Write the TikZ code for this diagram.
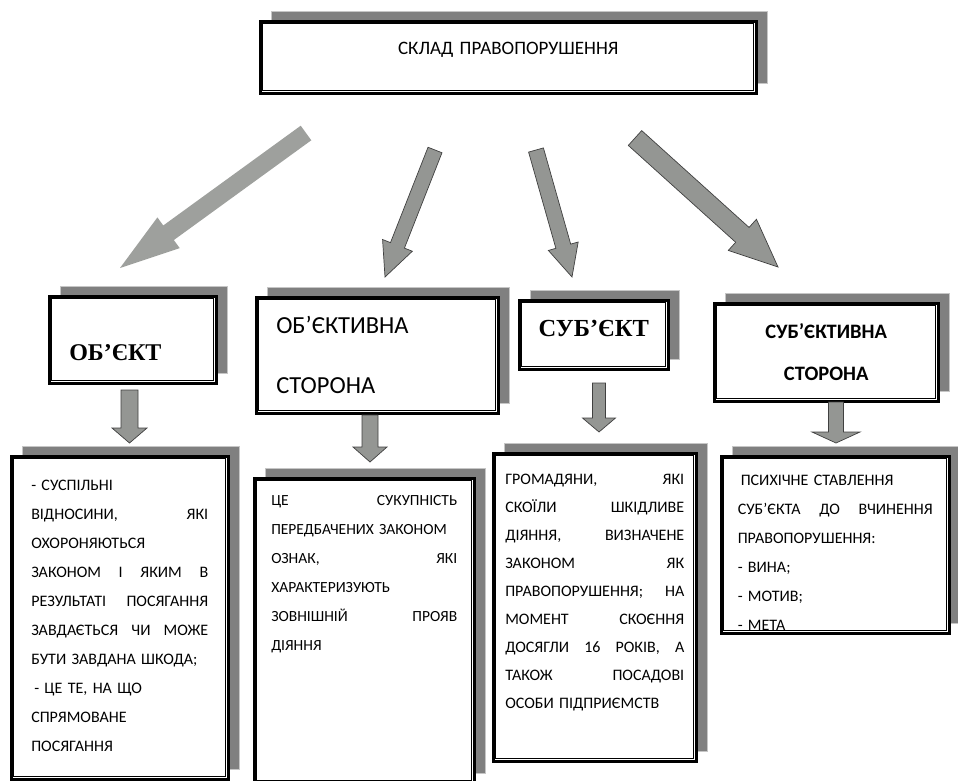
\documentclass[tikz,border=0pt]{standalone}
\usepackage{fontspec}
\setmainfont{Carlito}
\newfontfamily\tnr{Liberation Serif}
\usetikzlibrary{calc, shadows}
\definecolor{shadowgray}{RGB}{128, 128, 128}
\definecolor{arrowgray}{RGB}{148, 150, 147}
\definecolor{arrowlight}{RGB}{158, 160, 157}

% block arrow: [style]{tail}{tip}{half shaft}{half head}{head length}
\newcommand{\blockarrow}[6][]{%
  \coordinate (hb) at ($(#3)!#6!(#2)$);
  \draw[#1] ($(#2)!#4!90:(#3)$) -- ($(hb)!#4!90:(#3)$) -- ($(hb)!#5!90:(#3)$) -- (#3)
    -- ($(hb)!#5!-90:(#3)$) -- ($(hb)!#4!-90:(#3)$) -- ($(#2)!#4!-90:(#3)$) -- cycle;
}

\begin{document}
\begin{tikzpicture}[x=1pt, y=-1pt, every node/.style={font=\fontsize{16}{29}\selectfont}]
  % Styles
  \tikzstyle{boxed} = [draw, line width=2.5pt, fill=white, anchor=north west, inner ysep=0pt,
    drop shadow={shadow xshift=11pt, shadow yshift=10pt, fill=shadowgray, draw=gray!45, line width=1pt, opacity=1}]
  \tikzstyle{fatarrow} = [fill=arrowgray, draw=black!75, line width=0.7pt, line join=miter]

  \useasboundingbox (0,0) rectangle (958,780);

  % Title
  \node (title) [boxed, text width=496pt, inner xsep=0pt, align=center, text height=33pt, text depth=39pt,
    font=\fontsize{19}{21}\selectfont] at (259,20) {СКЛАД ПРАВОПОРУШЕННЯ};

  % Elements
  \node (object) [boxed, text width=127pt, inner xsep=20pt, align=left, text height=64pt, text depth=23pt,
    font=\tnr\bfseries\fontsize{24}{26}\selectfont] at (48,295) {ОБ’ЄКТ};
  \node (objside) [boxed, text width=202pt, inner xsep=20pt, align=left, text height=36pt, text depth=80pt,
    font=\fontsize{24.5}{60}\selectfont] at (255,296) {ОБ’ЄКТИВНА\\ СТОРОНА};
  \node (subject) [boxed, text width=149pt, inner xsep=0pt, align=center, text height=36pt, text depth=33pt,
    font=\tnr\bfseries\fontsize{24.5}{26}\selectfont] at (518,299) {СУБ’ЄКТ};
  \node (subjside) [boxed, text width=224pt, inner xsep=0pt, align=center, text height=35pt, text depth=63pt,
    font=\bfseries\fontsize{20.5}{42}\selectfont] at (713,302) {СУБ’ЄКТИВНА\\ СТОРОНА};

  % Descriptions
  \node (objtext) [boxed, text width=177pt, inner xsep=20pt, align=left, text height=34pt, text depth=289pt] at (10,455)
    {- СУСПІЛЬНІ\\ ВІДНОСИНИ,\hfill ЯКІ\\ ОХОРОНЯЮТЬСЯ\\ ЗАКОНОМ\hfill І\hfill ЯКИМ\hfill В\\
     РЕЗУЛЬТАТІ\hfill ПОСЯГАННЯ\\ ЗАВДАЄТЬСЯ\hfill ЧИ\hfill МОЖЕ\\ БУТИ ЗАВДАНА ШКОДА;\\
     \hspace*{3pt}- ЦЕ ТЕ, НА ЩО\\ СПРЯМОВАНЕ\\ ПОСЯГАННЯ};
  \node (sidetext) [boxed, text width=186pt, inner xsep=17pt, align=left, text height=27pt, text depth=278pt,
    font=\fontsize{15.5}{29}\selectfont] at (253,477)
    {ЦЕ\hfill СУКУПНІСТЬ\\ ПЕРЕДБАЧЕНИХ ЗАКОНОМ\\ ОЗНАК,\hfill ЯКІ\\ ХАРАКТЕРИЗУЮТЬ\\
     ЗОВНІШНІЙ\hfill ПРОЯВ\\ ДІЯННЯ};
  \node (subjtext) [boxed, text width=179pt, inner xsep=12pt, align=left, text height=31pt, text depth=277pt,
    font=\fontsize{16}{28}\selectfont] at (492,452)
    {ГРОМАДЯНИ,\hfill ЯКІ\\ СКОЇЛИ\hfill ШКІДЛИВЕ\\ ДІЯННЯ,\hfill ВИЗНАЧЕНЕ\\ ЗАКОНОМ\hfill ЯК\\
     ПРАВОПОРУШЕННЯ;\hfill НА\\ МОМЕНТ\hfill СКОЄННЯ\\ ДОСЯГЛИ\hfill 16\hfill РОКІВ,\hfill А\\
     ТАКОЖ\hfill ПОСАДОВІ\\ ОСОБИ ПІДПРИЄМСТВ};
  \node (mindtext) [boxed, text width=195pt, inner xsep=16.5pt, align=left, text height=29pt, text depth=148pt] at (720,455)
    {\hspace*{3pt}ПСИХІЧНЕ СТАВЛЕННЯ\\ СУБ’ЄКТА\hfill ДО\hfill ВЧИНЕННЯ\\ ПРАВОПОРУШЕННЯ:\\
     - ВИНА;\\ - МОТИВ;\\ - МЕТА};

  % thin inner frames
  \foreach \n in {title,object,objside,subject,subjside,objtext,sidetext,subjtext,mindtext}
    \draw[line width=0.8pt] ($(\n.north west)+(3.8,3.8)$) rectangle ($(\n.south east)+(-3.8,-3.8)$);

  % Arrows from the title
  \coordinate (a1s) at (306,133); \coordinate (a1e) at (120,268);
  \coordinate (a2s) at (435,150); \coordinate (a2e) at (385,277);
  \coordinate (a3s) at (536,150); \coordinate (a3e) at (572,277);
  \coordinate (a4s) at (635,138); \coordinate (a4e) at (778,267);
  \blockarrow[fatarrow, draw=none, fill=arrowlight]{a1s}{a1e}{9pt}{19pt}{60pt}
  \blockarrow[fatarrow]{a2s}{a2e}{7.5pt}{16pt}{34pt}
  \blockarrow[fatarrow]{a3s}{a3e}{7.7pt}{15.5pt}{32pt}
  \blockarrow[fatarrow]{a4s}{a4e}{10pt}{21pt}{48pt}

  % Arrows to the descriptions
  \coordinate (d1s) at (129.5,390); \coordinate (d1e) at (129.5,443);
  \coordinate (d2s) at (370,415); \coordinate (d2e) at (370,462);
  \coordinate (d3s) at (599,383); \coordinate (d3e) at (599,432);
  \coordinate (d4s) at (836,402); \coordinate (d4e) at (836,443);
  \blockarrow[fatarrow]{d1s}{d1e}{8.5pt}{17.5pt}{15pt}
  \blockarrow[fatarrow]{d2s}{d2e}{8pt}{17pt}{15pt}
  \blockarrow[fatarrow]{d3s}{d3e}{6.5pt}{16.5pt}{14pt}
  \blockarrow[fatarrow]{d4s}{d4e}{7.5pt}{24pt}{11pt}
\end{tikzpicture}
\end{document}
